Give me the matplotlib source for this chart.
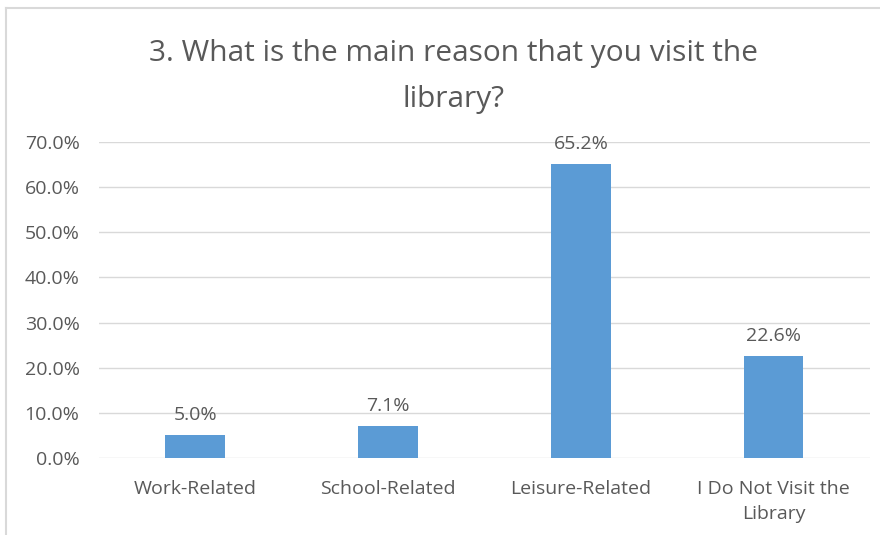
import matplotlib
matplotlib.use('Agg')
import matplotlib.pyplot as plt
from matplotlib.lines import Line2D

plt.rcParams['font.family'] = ['Open Sans', 'DejaVu Sans']

categories = ['Work-Related', 'School-Related', 'Leisure-Related', 'I Do Not Visit the\nLibrary']
values = [5.0, 7.1, 65.2, 22.6]
yticks = [0, 10, 20, 30, 40, 50, 60, 70]
title = '3. What is the main reason that you visit the\nlibrary?'

text_color = '#595959'
bar_color = '#5B9BD5'
grid_color = '#D9D9D9'

fig = plt.figure(figsize=(8.8, 5.35), dpi=100)
ax = fig.add_axes([0.1125, 0.1439, 0.8761, 0.5907])

x = list(range(len(categories)))
ax.bar(x, values, width=0.31, color=bar_color, zorder=3)
for xi, v in zip(x, values):
    ax.annotate(f'{v:.1f}%', (xi, v), xytext=(0, 8), textcoords='offset points',
                ha='center', va='bottom', fontsize=14, color=text_color)

ax.set_xlim(-0.5, len(categories) - 0.5)
ax.set_ylim(0, 70)
ax.set_yticks(yticks)
ax.set_yticklabels([f'{t:.1f}%' for t in yticks])
ax.set_xticks(x)
ax.set_xticklabels(categories, linespacing=1.45)
ax.tick_params(axis='both', length=0, labelsize=14, colors=text_color)
ax.tick_params(axis='y', pad=14)
ax.tick_params(axis='x', pad=16)
ax.grid(axis='y', color=grid_color, linewidth=1, zorder=0)
for s in ax.spines.values():
    s.set_visible(False)

fig.text(0.515, 0.857, title, ha='center', va='center', fontsize=21.5,
         color=text_color, linespacing=1.75)

# chart frame (left and top edges)
fig.add_artist(Line2D([6/880, 6/880], [0, 1 - 8/535], color='#D9D9D9', lw=1.5))
fig.add_artist(Line2D([6/880, 1], [1 - 8/535, 1 - 8/535], color='#D9D9D9', lw=1.5))

fig.savefig('out.png', dpi=100, facecolor='white')
